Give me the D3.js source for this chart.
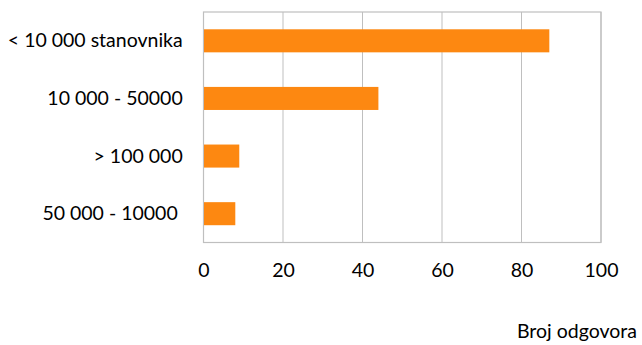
<!DOCTYPE html>
<html>
<head>
<meta charset="utf-8">
<script src="https://cdn.jsdelivr.net/npm/d3@7"></script>
<style>
  html, body { margin: 0; padding: 0; background: #fff; }
  svg { display: block; }
  text { font-family: Lato, "Open Sans", sans-serif; fill: #000; }
</style>
</head>
<body>
<svg id="chart" width="642" height="345"></svg>
<script>
// Population size categories (top to bottom) and number of answers
const categories = ["< 10 000 stanovnika", "10 000 - 50000", "> 100 000", "50 000 - 10000 "];
const answers = [87, 44, 9, 8];
const xTicks = [0, 20, 40, 60, 80, 100];
const xTitle = "Broj odgovora";

const svg = d3.select("#chart");
const plot = { left: 203.5, right: 601, top: 12, bottom: 242.5 };
const fontSize = "19.5px";

const x = d3.scaleLinear().domain([0, 100]).range([plot.left, plot.right]);
const y = d3.scaleBand().domain(categories).range([plot.top, plot.bottom]).paddingInner(0.6).paddingOuter(0.3);

// vertical gridlines
svg.append("g")
  .selectAll("line")
  .data(xTicks)
  .join("line")
  .attr("x1", d => x(d)).attr("x2", d => x(d))
  .attr("y1", plot.top).attr("y2", plot.bottom)
  .attr("stroke", "#bfbfbf").attr("stroke-width", 1);

// plot frame
svg.append("rect")
  .attr("x", plot.left).attr("y", plot.top)
  .attr("width", plot.right - plot.left).attr("height", plot.bottom - plot.top)
  .attr("fill", "none").attr("stroke", "#bfbfbf").attr("stroke-width", 1.2);

// bars
svg.append("g")
  .selectAll("rect")
  .data(categories.map((c, i) => ({ c, v: answers[i] })))
  .join("rect")
  .attr("x", x(0) + 0.5)
  .attr("y", d => y(d.c))
  .attr("width", d => x(d.v) - x(0) - 0.5)
  .attr("height", y.bandwidth())
  .attr("fill", "#fd8811");

// x axis labels
const xAxis = d3.axisBottom(x).tickValues(xTicks).tickSize(0).tickPadding(0).tickFormat(d3.format("d"));
const gx = svg.append("g")
  .attr("transform", `translate(0,277.3)`)
  .call(xAxis);
gx.select(".domain").remove();
gx.selectAll("text")
  .attr("dy", 0)
  .style("font-family", "Lato, 'Open Sans', sans-serif")
  .style("font-size", fontSize)
  .attr("fill", "#000");

// y axis labels
const yAxis = d3.axisLeft(y).tickSize(0).tickPadding(0);
const gy = svg.append("g")
  .attr("transform", `translate(${plot.left - 20.8},0)`)
  .call(yAxis);
gy.select(".domain").remove();
gy.selectAll("text")
  .attr("dy", "0.33em")
  .style("white-space", "pre")
  .style("font-family", "Lato, 'Open Sans', sans-serif")
  .style("font-size", fontSize)
  .attr("fill", "#000");

// axis title
svg.append("text")
  .attr("x", 637)
  .attr("y", 338)
  .attr("text-anchor", "end")
  .style("font-size", fontSize)
  .text(xTitle);
</script>
</body>
</html>
